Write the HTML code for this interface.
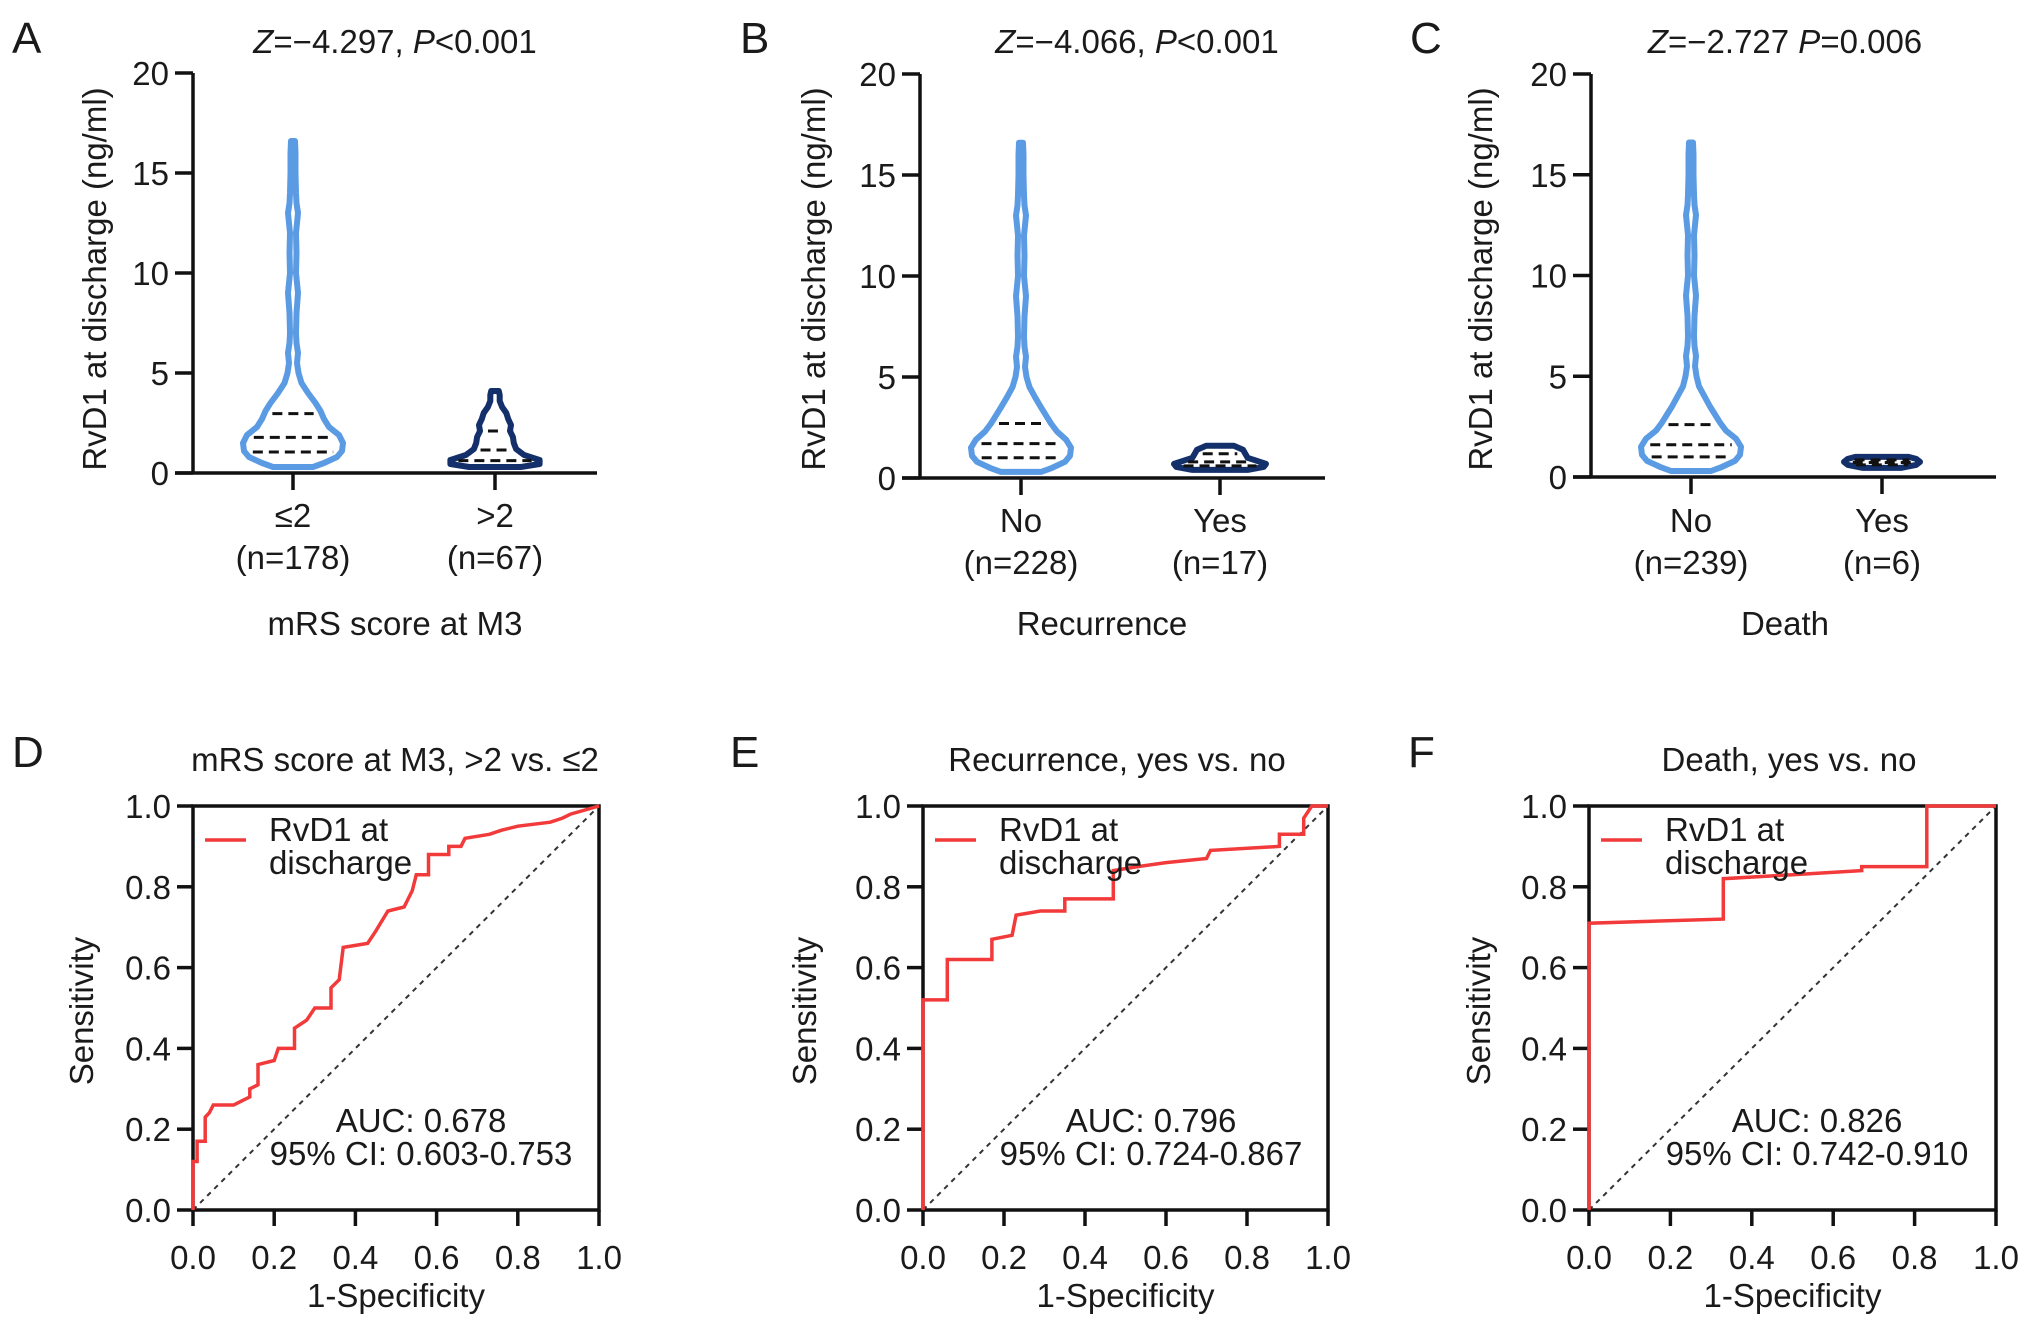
<!DOCTYPE html>
<html><head><meta charset="utf-8">
<style>
html,body{margin:0;padding:0;background:#fff;}
svg{display:block;font-family:"Liberation Sans",Arial,sans-serif;}
</style></head>
<body>
<svg id="fig" width="2032" height="1327" viewBox="0 0 2032 1327" xmlns="http://www.w3.org/2000/svg"></svg>
<script>
// ---------- DATA ----------
const violinTicks = [0, 5, 10, 15, 20];
const rocTicks = [0, 0.2, 0.4, 0.6, 0.8, 1.0];
const rocTickLabels = ["0.0", "0.2", "0.4", "0.6", "0.8", "1.0"];

const vA1y = [0.3,0.5,0.8,1.1,1.5,1.9,2.3,2.7,3.1,3.5,4,4.5,5,5.5,6,6.5,7,8,9,10,11,12,13,13.5,14,15,16,16.6];
const vA1d = [0.4,0.62,0.88,0.98,1.0,0.92,0.72,0.62,0.55,0.45,0.3,0.17,0.11,0.08,0.1,0.07,0.06,0.07,0.1,0.06,0.07,0.06,0.1,0.07,0.06,0.05,0.05,0.04];
const vA1q = [1.05, 1.78, 2.97];
const vA2y = [0.3,0.45,0.65,0.9,1.2,1.5,1.8,2.1,2.4,2.7,3.0,3.3,3.6,3.9,4.1];
const vA2d = [0.55,0.95,0.95,0.62,0.45,0.4,0.38,0.32,0.34,0.28,0.24,0.15,0.1,0.1,0.08];
const vA2q = [0.62, 1.15, 2.1];

const vB1y = [0.3,0.5,0.8,1.1,1.5,1.9,2.3,2.7,3.1,3.5,4,4.5,5,5.5,6,6.5,7,8,9,10,11,12,13,13.5,14,15,16,16.6];
const vB1d = [0.4,0.62,0.88,0.98,1.0,0.9,0.72,0.6,0.5,0.4,0.28,0.17,0.11,0.08,0.1,0.07,0.06,0.07,0.1,0.06,0.07,0.06,0.1,0.07,0.06,0.05,0.05,0.04];
const vB1q = [1.0, 1.7, 2.7];
const vB2y = [0.4,0.55,0.7,0.85,1.0,1.2,1.4,1.6];
const vB2d = [0.6,0.95,1.0,0.8,0.6,0.55,0.5,0.3];
const vB2q = [0.6, 0.8, 1.2];

const vC1y = [0.3,0.5,0.8,1.1,1.5,1.9,2.3,2.7,3.1,3.5,4,4.5,5,5.5,6,6.5,7,8,9,10,11,12,13,13.5,14,15,16,16.6];
const vC1d = [0.4,0.62,0.88,0.98,1.0,0.9,0.7,0.58,0.48,0.38,0.27,0.16,0.11,0.08,0.1,0.07,0.06,0.07,0.1,0.06,0.07,0.06,0.1,0.07,0.06,0.05,0.05,0.04];
const vC1q = [1.0, 1.6, 2.6];
const vC2y = [0.45,0.6,0.75,0.9,1.0];
const vC2d = [0.5,0.9,1.0,0.9,0.7];
const vC2q = [0.6, 0.72, 0.85];

const rocDx = [0,0,0.01,0.01,0.03,0.03,0.04,0.05,0.1,0.12,0.14,0.14,0.16,0.16,0.2,0.21,0.25,0.25,0.28,0.3,0.34,0.34,0.36,0.37,0.43,0.45,0.48,0.52,0.54,0.55,0.58,0.58,0.63,0.63,0.66,0.67,0.73,0.76,0.8,0.88,0.91,0.93,1];
const rocDy = [0,0.12,0.12,0.17,0.17,0.23,0.24,0.26,0.26,0.27,0.28,0.3,0.31,0.36,0.37,0.40,0.40,0.45,0.47,0.5,0.5,0.55,0.57,0.65,0.66,0.69,0.74,0.75,0.79,0.83,0.83,0.88,0.88,0.9,0.9,0.92,0.93,0.94,0.95,0.96,0.97,0.98,1];
const rocEx = [0,0,0.06,0.06,0.17,0.17,0.22,0.23,0.29,0.35,0.35,0.47,0.47,0.53,0.6,0.7,0.71,0.88,0.88,0.94,0.94,0.96,1];
const rocEy = [0,0.52,0.52,0.62,0.62,0.67,0.68,0.73,0.74,0.74,0.77,0.77,0.84,0.85,0.86,0.87,0.89,0.9,0.93,0.93,0.97,1,1];
const rocFx = [0,0,0.33,0.33,0.5,0.67,0.67,0.83,0.83,1];
const rocFy = [0,0.71,0.72,0.82,0.83,0.84,0.85,0.85,1,1];

// ---------- DRAW ----------
const FS = 33;
const NS = "http://www.w3.org/2000/svg";
const svg = document.getElementById("fig");
function mk(tag, attrs, parent){
  const e = document.createElementNS(NS, tag);
  for (const k in attrs) e.setAttribute(k, attrs[k]);
  (parent||svg).appendChild(e);
  return e;
}
function txt(s, x, y, size, anchor, parent, extra){
  const t = mk("text", Object.assign({x:x, y:y, "font-size":size, "text-anchor":anchor||"middle", fill:"#1a1a1a"}, extra||{}), parent);
  t.textContent = s;
  return t;
}

function violinPanel(name, ax, groups, catLabels, nLabels, xlab, letter, title, ylabX){
  const g = mk("g", {});
  
  
  const ys = v => ax.bot - (v/20)*(ax.bot-ax.top);
  const L = txt(letter, ax.letterX, 53, 44, "start", g);
  
  
  const T = mk("text", {x:ax.titleX, y:53, "font-size":FS, "text-anchor":"middle", fill:"#1a1a1a"}, g);
  
  
  title.forEach(p => { const s = mk("tspan", p.i ? {"font-style":"italic"} : {}, T); s.textContent = p.t; });
  const axg = mk("g", {stroke:"#111", "stroke-width":3.5, fill:"none"}, g);
  
  
  mk("line", {x1:ax.x0, y1:ax.top, x2:ax.x0, y2:ax.bot}, axg);
  mk("line", {x1:ax.x0-18, y1:ax.bot, x2:ax.xr, y2:ax.bot}, axg);
  violinTicks.forEach(v => {
    mk("line", {x1:ax.x0-18, y1:ys(v), x2:ax.x0, y2:ys(v)}, axg);
    const t = txt(String(v), ax.x0-24, ys(v)+12, FS, "end", g);
    
    
  });
  ax.cats.forEach((cx, i) => {
    mk("line", {x1:cx, y1:ax.bot, x2:cx, y2:ax.bot+17}, axg);
    const a = txt(catLabels[i], cx, ax.row1, FS, "middle", g);
    
    
    const b = txt(nLabels[i], cx, ax.row1+42, FS, "middle", g);
    
    
  });
  const xl = txt(xlab, ax.xlabX, 635, FS, "middle", g);
  
  
  const yl = txt("RvD1 at discharge (ng/ml)", 0, 0, FS, "middle", g, {transform:`translate(${ylabX},279) rotate(-90)`});
  
  
  groups.forEach((gr, i) => {
    const cx = ax.cats[i];
    const hw = d => d*gr.w;
    let pts = gr.y.map((v,k) => [cx + hw(gr.d[k]), ys(v)]);
    let left = gr.y.map((v,k) => [cx - hw(gr.d[k]), ys(v)]).reverse();
    const all = pts.concat(left);
    const path = mk("path", {d: "M" + all.map(p => p[0].toFixed(1)+","+p[1].toFixed(1)).join(" L") + " Z",
      fill:"none", stroke:gr.c, "stroke-width":6, "stroke-linejoin":"round"}, g);
    
    
    gr.q.forEach(q => {
      let d = gr.d[0];
      for (let k=0;k<gr.y.length-1;k++){
        if (q>=gr.y[k] && q<=gr.y[k+1]) { const f=(q-gr.y[k])/(gr.y[k+1]-gr.y[k]); d = gr.d[k]+f*(gr.d[k+1]-gr.d[k]); }
      }
      const w = hw(d) - 8;
      const ql = mk("line", {x1:cx-w, y1:ys(q), x2:cx+w, y2:ys(q), stroke:"#111", "stroke-width":3, "stroke-dasharray":"10,6"}, g);
      
      
    });
  });
}

const light = "#5b9be3", dark = "#14306b";
violinPanel("panel-a", {x0:193, xr:597, top:73, bot:473, cats:[293,495], row1:527, xlabX:395, letterX:12, titleX:395},
  [{y:vA1y,d:vA1d,q:vA1q,c:light,w:50},{y:vA2y,d:vA2d,q:vA2q,c:dark,w:47}],
  ["≤2",">2"], ["(n=178)","(n=67)"], "mRS score at M3", "A",
  [{t:"Z",i:true},{t:"=−4.297, "},{t:"P",i:true},{t:"<0.001"}], 106);
violinPanel("panel-b", {x0:920, xr:1325, top:74, bot:478, cats:[1021,1220], row1:532, xlabX:1102, letterX:740, titleX:1137},
  [{y:vB1y,d:vB1d,q:vB1q,c:light,w:50},{y:vB2y,d:vB2d,q:vB2q,c:dark,w:46}],
  ["No","Yes"], ["(n=228)","(n=17)"], "Recurrence", "B",
  [{t:"Z",i:true},{t:"=−4.066, "},{t:"P",i:true},{t:"<0.001"}], 825);
violinPanel("panel-c", {x0:1591, xr:1996, top:74, bot:477, cats:[1691,1882], row1:532, xlabX:1785, letterX:1410, titleX:1785},
  [{y:vC1y,d:vC1d,q:vC1q,c:light,w:50},{y:vC2y,d:vC2d,q:vC2q,c:dark,w:38}],
  ["No","Yes"], ["(n=239)","(n=6)"], "Death", "C",
  [{t:"Z",i:true},{t:"=−2.727 "},{t:"P",i:true},{t:"=0.006"}], 1492);

function rocPanel(name, ax, xs, ys_, letter, title, auc, ci, ylabX){
  const g = mk("g", {});
  
  
  const sx = v => ax.x0 + v*(ax.x1-ax.x0);
  const sy = v => ax.bot - v*(ax.bot-ax.top);
  const L = txt(letter, ax.letterX, 767, 44, "start", g);
  
  
  const T = txt(title, ax.titleX, 771, FS, "middle", g);
  
  
  const axg = mk("g", {stroke:"#111", "stroke-width":3.5, fill:"none"}, g);
  
  
  mk("rect", {x:ax.x0, y:ax.top, width:ax.x1-ax.x0, height:ax.bot-ax.top}, axg);
  rocTicks.forEach((v,i) => {
    mk("line", {x1:ax.x0-16, y1:sy(v), x2:ax.x0, y2:sy(v)}, axg);
    mk("line", {x1:sx(v), y1:ax.bot, x2:sx(v), y2:ax.bot+16}, axg);
    const a = txt(rocTickLabels[i], ax.x0-22, sy(v)+12, FS, "end", g);
    
    
    const b = txt(rocTickLabels[i], sx(v), 1269, FS, "middle", g);
    
    
  });
  const xl = txt("1-Specificity", (ax.x0+ax.x1)/2, 1307, FS, "middle", g);
  
  
  const yl = txt("Sensitivity", 0, 0, FS, "middle", g, {transform:`translate(${ylabX},1011) rotate(-90)`});
  
  
  const diag = mk("line", {x1:sx(0), y1:sy(0), x2:sx(1), y2:sy(1), stroke:"#333", "stroke-width":2, "stroke-dasharray":"5,5"}, g);
  
  
  const curve = mk("polyline", {points: xs.map((x,i) => sx(x).toFixed(1)+","+sy(ys_[i]).toFixed(1)).join(" "),
    fill:"none", stroke:"#f23a3a", "stroke-width":3.5}, g);
  
  
  const lg = mk("g", {}, g);
  
  
  mk("line", {x1:ax.x0+12, y1:ax.top+34, x2:ax.x0+53, y2:ax.top+34, stroke:"#f23a3a", "stroke-width":3.5}, lg);
  txt("RvD1 at", ax.x0+76, ax.top+35, FS, "start", lg);
  txt("discharge", ax.x0+76, ax.top+68, FS, "start", lg);
  const a1 = txt(auc, ax.x0+228, 1132, FS, "middle", g);
  
  
  const a2 = txt(ci, ax.x0+228, 1165, FS, "middle", g);
  
  
}
rocPanel("panel-d", {x0:193, x1:599, top:806, bot:1210, letterX:12, titleX:395}, rocDx, rocDy, "D", "mRS score at M3, >2 vs. ≤2", "AUC: 0.678", "95% CI: 0.603-0.753", 93);
rocPanel("panel-e", {x0:923, x1:1328, top:806, bot:1210, letterX:730, titleX:1117}, rocEx, rocEy, "E", "Recurrence, yes vs. no", "AUC: 0.796", "95% CI: 0.724-0.867", 816);
rocPanel("panel-f", {x0:1589, x1:1996, top:806, bot:1210, letterX:1408, titleX:1789}, rocFx, rocFy, "F", "Death, yes vs. no", "AUC: 0.826", "95% CI: 0.742-0.910", 1490);
</script>
</body></html>
